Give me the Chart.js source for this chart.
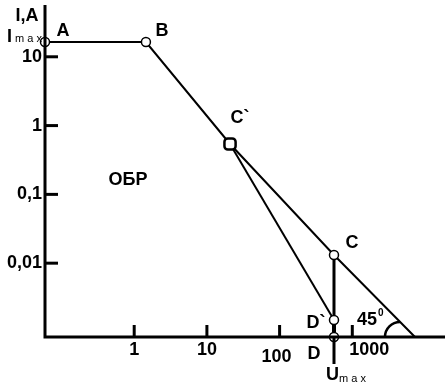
<!DOCTYPE html>
<html>
<head>
<meta charset="utf-8">
<script src="https://cdn.jsdelivr.net/npm/chart.js@4/dist/chart.umd.min.js"></script>
<style>
  html, body { margin: 0; padding: 0; background: #fff; overflow: hidden; }
  canvas { display: block; }
</style>
</head>
<body>
<canvas id="c" width="445" height="388"></canvas>
<script>
// Safe operating area (ОБР) of a transistor, log–log axes: current I (A) vs voltage U (V)
const I_MAX = 16.4;
const U_MAX = 560;
const U_MIN_AXIS = 0.0593;
const U_MAX_AXIS = 18840;
const I_MIN_AXIS = 0.000845;
const I_MAX_AXIS = 56.6;

const xTickValues = [1, 10, 100, 1000];
const xTickLabels = ['1', '10', '100', '1000'];
const yTickValues = [10, 1, 0.1, 0.01];
const yTickLabels = ['10', '1', '0,1', '0,01'];

// Characteristic points A, B, C`, C, D`, D
const pointNames = ['A', 'B', 'C`', 'C', 'D`', 'D'];
const pointU = [U_MIN_AXIS, 1.45, 20.8, U_MAX, U_MAX, U_MAX];
const pointI = [I_MAX, I_MAX, 0.54, 0.01316, 0.00149, I_MIN_AXIS];
// the 45° segment through C continues down to the U axis here
const slopeEndU = 7280;

const pt = i => ({ x: pointU[i], y: pointI[i] });

const FONT = 'bold 18px "Liberation Sans", Arial, sans-serif';
const SMALL = '11px "Liberation Sans", Arial, sans-serif';

const annotate = {
  id: 'annotate',
  afterDatasetsDraw(chart) {
    const { ctx, scales: { x, y }, chartArea: a } = chart;
    ctx.save();
    ctx.strokeStyle = '#000';
    ctx.fillStyle = '#000';
    ctx.lineCap = 'butt';

    // axes
    ctx.lineWidth = 3;
    ctx.beginPath();
    ctx.moveTo(a.left, a.top);
    ctx.lineTo(a.left, a.bottom);
    ctx.lineTo(a.right, a.bottom);
    ctx.stroke();

    // inward ticks
    yTickValues.forEach(v => {
      const py = y.getPixelForValue(v);
      ctx.beginPath(); ctx.moveTo(a.left, py); ctx.lineTo(a.left + 13, py); ctx.stroke();
    });
    xTickValues.forEach(v => {
      const px = x.getPixelForValue(v);
      ctx.beginPath(); ctx.moveTo(px, a.bottom); ctx.lineTo(px, a.bottom - 12); ctx.stroke();
    });
    // Umax marker below the axis
    const pxU = x.getPixelForValue(U_MAX);
    ctx.beginPath(); ctx.moveTo(pxU, a.bottom); ctx.lineTo(pxU, a.bottom + 27); ctx.stroke();

    ctx.font = FONT;
    // y tick labels
    ctx.textAlign = 'right';
    ctx.textBaseline = 'middle';
    yTickValues.forEach((v, i) => {
      ctx.fillText(yTickLabels[i], a.left - 3, y.getPixelForValue(v));
    });
    // x tick labels
    ctx.textAlign = 'center';
    const xOffsets = [[0, 13], [0, 13], [-3, 20], [17, 13]];
    xTickValues.forEach((v, i) => {
      ctx.fillText(xTickLabels[i], x.getPixelForValue(v) + xOffsets[i][0], a.bottom + xOffsets[i][1]);
    });

    // point names
    const nameOffsets = [[18, -11], [16, -11], [10, -26], [18, -12], [-18, 3], [-20, 17]];
    pointNames.forEach((n, i) => {
      const px = x.getPixelForValue(pointU[i]);
      const py = y.getPixelForValue(pointI[i]);
      ctx.fillText(n, px + nameOffsets[i][0], py + nameOffsets[i][1]);
    });

    // axis names
    ctx.fillText('I,A', a.left - 18, a.top + 11);
    ctx.textAlign = 'left';
    const aY = y.getPixelForValue(I_MAX);
    ctx.fillText('I', a.left - 38, aY - 5);
    ctx.font = SMALL;
    ctx.fillText('m a x', a.left - 30, aY - 3);
    ctx.font = FONT;
    ctx.fillText('U', pxU - 8, a.bottom + 38);
    ctx.font = SMALL;
    ctx.fillText('m a x', pxU + 5, a.bottom + 42);

    // region name
    ctx.font = FONT;
    ctx.textAlign = 'center';
    ctx.fillText('ОБР', x.getPixelForValue(0.82), y.getPixelForValue(0.16));

    // 45° angle mark
    const ex = x.getPixelForValue(slopeEndU);
    ctx.lineWidth = 2.5;
    ctx.beginPath();
    ctx.arc(ex - 15, a.bottom, 15, Math.PI, 1.5 * Math.PI);
    ctx.stroke();
    ctx.textAlign = 'left';
    ctx.fillText('45', ex - 58, a.bottom - 17);
    ctx.font = 'bold 10px "Liberation Sans", Arial, sans-serif';
    ctx.fillText('0', ex - 37, a.bottom - 24);

    ctx.restore();
  }
};

const line = (data, width) => ({
  data, showLine: true, borderColor: '#000', borderWidth: width,
  pointRadius: 0, clip: false, order: 2
});

new Chart(document.getElementById('c'), {
  type: 'scatter',
  data: {
    datasets: [
      line([pt(0), pt(1), pt(2), pt(3), { x: slopeEndU, y: I_MIN_AXIS }], 2),
      line([pt(2), pt(4)], 2),
      line([pt(3), pt(4)], 3),
      line([pt(4), pt(5)], 4),
      {
        data: [pt(0), pt(1), pt(2), pt(3), pt(4), pt(5)],
        showLine: false,
        pointStyle: ['circle', 'circle', 'rectRounded', 'circle', 'circle', 'circle'],
        pointRadius: [4.5, 4.5, 6.5, 4.5, 4.5, 4.5],
        pointBorderWidth: [1.5, 1.5, 2.5, 1.5, 1.5, 1.5],
        pointBackgroundColor: '#fff',
        pointBorderColor: '#000',
        clip: false,
        order: 1
      }
    ]
  },
  options: {
    responsive: false,
    animation: false,
    devicePixelRatio: 1,
    layout: { autoPadding: false, padding: { left: 45, right: 0, top: 5, bottom: 51 } },
    plugins: { legend: { display: false }, tooltip: { enabled: false } },
    scales: {
      x: { type: 'logarithmic', min: U_MIN_AXIS, max: U_MAX_AXIS, display: false },
      y: { type: 'logarithmic', min: I_MIN_AXIS, max: I_MAX_AXIS, display: false }
    }
  },
  plugins: [annotate]
});
</script>
</body>
</html>
